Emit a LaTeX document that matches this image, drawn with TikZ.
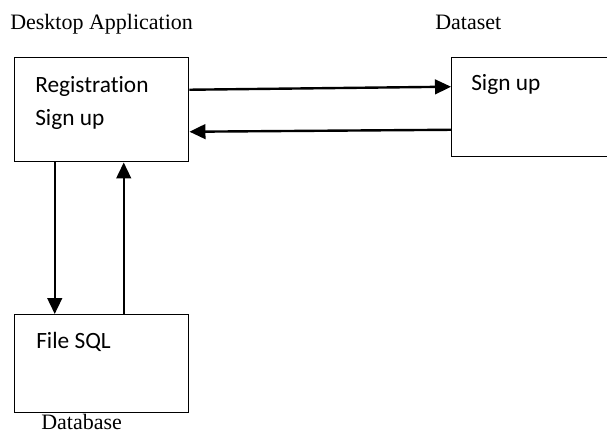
\documentclass[tikz,border=0pt]{standalone}
\usepackage{fontspec}
\setmainfont{Liberation Serif}
\newfontfamily\boxfont[Ligatures=NoCommon]{Carlito}
\usetikzlibrary{arrows.meta}

\begin{document}
\begin{tikzpicture}[x=0.75pt,y=-0.75pt,
  box/.style={draw, line width=1.1pt, anchor=north west, inner sep=0pt},
  arr/.style={-{Triangle[length=12pt,width=11pt]}, line width=1.8pt},
  intext/.style={anchor=base west, inner sep=0pt, font=\boxfont\fontsize{17.5}{20}\selectfont},
  title/.style={anchor=base west, inner sep=0pt, font=\fontsize{16.5}{19}\selectfont}]
\useasboundingbox (0,0) rectangle (607,433);
\clip (0,0) rectangle (607,433);

% boxes
\node[box, minimum width=130.5pt, minimum height=78pt] (app) at (14,57) {};
\node[box, minimum width=127.5pt, minimum height=74.25pt] (data) at (451,57) {};
\node[box, minimum width=130.5pt, minimum height=73.5pt] (db) at (14,314) {};

% titles
\node[title] (apptitle) at (10,29) {Desktop Application};
\node[title] (datatitle) at (435,29) {Dataset};
\node[title] (dbtitle) at (41,429) {Database};

% texts in the boxes
\node[intext] (reg) at (35,92) {Registration};
\node[intext] (appsign) at (35,125) {Sign up};
\node[intext] (datasign) at (471,90) {Sign up};
\node[intext] (sql) at (36,348) {File SQL};

% arrows
\draw[arr] ([yshift=15pt]app.east) -- ([yshift=15.4pt]data.west);
\draw[arr] ([yshift=-16.9pt]data.west) -- ([yshift=-16.5pt]app.east);
\draw[arr] ([xshift=-35.25pt]app.south) -- ([xshift=-35.25pt]db.north);
\draw[arr] ([xshift=16.5pt]db.north) -- ([xshift=16.5pt]app.south);
\end{tikzpicture}
\end{document}
